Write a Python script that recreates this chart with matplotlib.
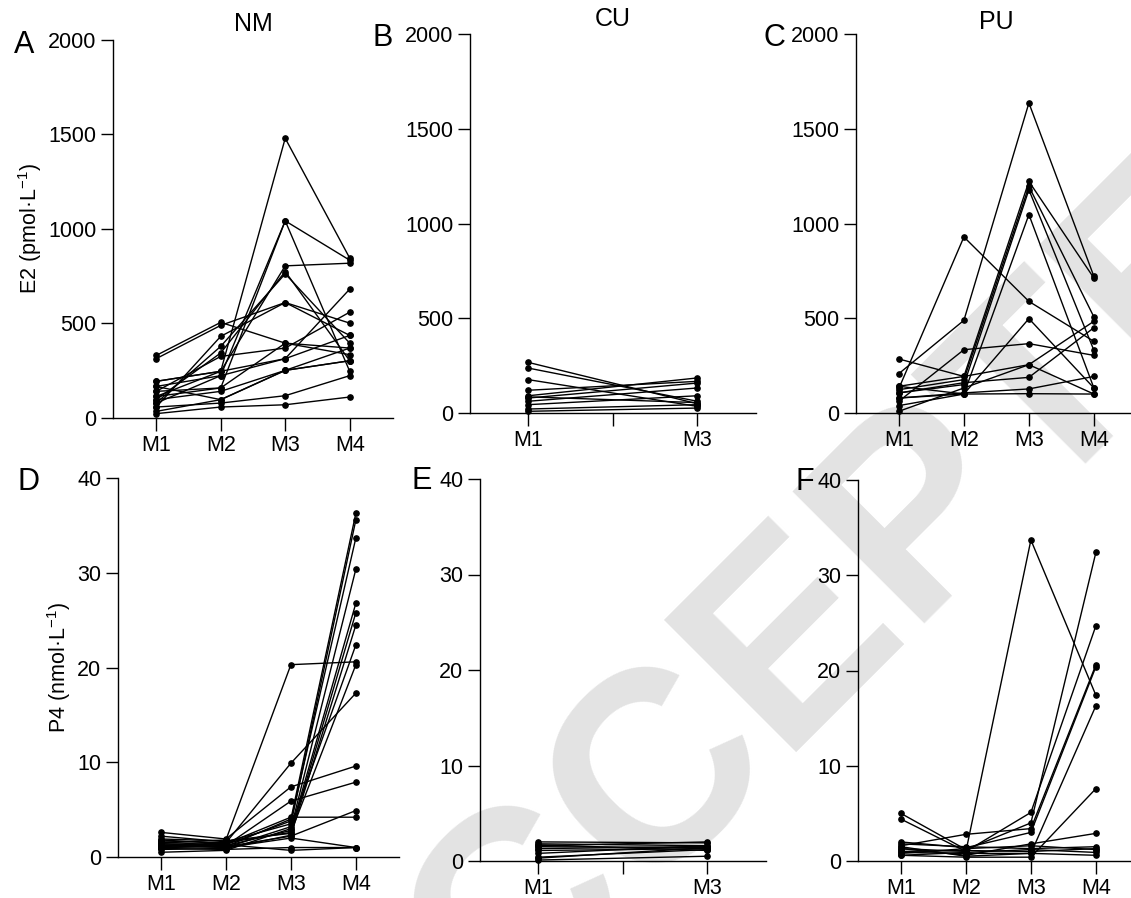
import matplotlib
matplotlib.use('Agg')
import matplotlib.pyplot as plt

plt.rcParams['font.family'] = ['Liberation Sans', 'DejaVu Sans']
plt.rcParams['mathtext.fontset'] = 'custom'
plt.rcParams['mathtext.rm'] = 'Liberation Sans'
plt.rcParams['mathtext.default'] = 'regular'

# time points
months4 = ['M1', 'M2', 'M3', 'M4']
months2 = ['M1', '', 'M3']

# E2 (pmol/L), one row per subject
e2_nm = [
    [331, 506, 396, 370],
    [314, 490, 611, 437],
    [194, 247, 1480, 846],
    [167, 224, 1043, 835],
    [141, 159, 1043, 247],
    [114, 247, 805, 819],
    [97, 344, 775, 303],
    [79, 379, 763, 396],
    [58, 432, 611, 502],
    [141, 326, 370, 560],
    [194, 247, 314, 682],
    [114, 159, 396, 335],
    [97, 141, 252, 303],
    [35, 97, 252, 303],
    [58, 79, 118, 224],
    [23, 58, 70, 111],
    [79, 224, 314, 437],
    [167, 97, 252, 370],
]
e2_cu = [
    [267, 49], [237, 62], [176, 35], [120, 167], [91, 185], [79, 158],
    [62, 132], [44, 91], [21, 44], [9, 26], [85, 55],
]
e2_pu = [
    [130, 929, 589, 378],
    [208, 489, 1636, 721],
    [141, 193, 1222, 712],
    [123, 176, 1196, 507],
    [106, 150, 1178, 331],
    [79, 100, 1047, 132],
    [62, 334, 366, 304],
    [39, 100, 498, 132],
    [285, 193, 255, 100],
    [9, 132, 255, 484],
    [106, 160, 188, 450],
    [79, 106, 127, 193],
    [141, 100, 102, 100],
]

# P4 (nmol/L)
p4_nm = [
    [1.5, 1.8, 20.3, 20.6],
    [1.2, 1.5, 9.9, 17.3],
    [2.6, 1.9, 7.4, 9.6],
    [1.0, 1.2, 5.9, 7.9],
    [1.8, 1.4, 4.2, 4.2],
    [1.3, 1.0, 2.0, 1.0],
    [0.9, 0.8, 1.0, 1.0],
    [1.4, 1.1, 4.0, 36.3],
    [2.2, 1.6, 3.5, 35.6],
    [1.1, 1.3, 3.8, 33.7],
    [0.5, 0.7, 3.0, 30.4],
    [1.6, 1.2, 2.8, 26.8],
    [1.9, 1.7, 2.5, 25.8],
    [0.8, 0.9, 2.3, 24.5],
    [1.2, 1.0, 3.2, 22.4],
    [1.7, 1.5, 2.6, 20.3],
    [1.0, 1.1, 2.2, 4.9],
    [1.4, 1.3, 0.7, 1.0],
]
p4_cu = [
    [2.0, 1.9], [1.8, 1.6], [1.6, 2.0], [1.5, 1.4], [1.3, 1.5], [1.1, 1.3],
    [0.8, 1.6], [0.4, 1.2], [0.1, 0.5], [1.7, 1.1], [0.3, 1.4],
]
p4_pu = [
    [1.3, 1.0, 33.7, 17.4],
    [5.0, 1.2, 4.0, 32.4],
    [4.4, 1.0, 5.1, 24.7],
    [1.6, 2.8, 3.4, 20.6],
    [2.0, 1.4, 3.0, 20.4],
    [0.9, 0.8, 0.8, 16.3],
    [1.3, 0.6, 1.8, 2.9],
    [0.6, 0.4, 0.4, 7.6],
    [1.8, 1.5, 1.3, 1.5],
    [1.0, 1.1, 1.0, 1.3],
    [0.6, 0.9, 1.2, 0.9],
    [1.5, 0.5, 0.8, 0.6],
    [0.8, 1.3, 1.6, 1.2],
]

W, H = 1131, 898
fig = plt.figure(figsize=(W / 100, H / 100), dpi=100)

# watermark behind everything
fig.text(895 / W, 1 - 647 / H, 'ACCEPTED', rotation=45, fontsize=196, color='#e3e3e3',
         fontweight='bold', ha='center', va='baseline', rotation_mode='anchor', zorder=-1)


def make_panel(box, subjects, labels, xs, ymax, ystep, letter, title=None, ylabel=None):
    left, top, bottom, unit, pad = box
    xlo, xhi = -pad, len(labels) - 1 + pad
    width = (xhi - xlo) * unit
    ax = fig.add_axes([left / W, 1 - bottom / H, width / W, (bottom - top) / H])
    ax.patch.set_alpha(0)
    for s in subjects:
        ax.plot(xs, s, color='black', lw=1.0, marker='o', ms=3.8, clip_on=False)
    ax.set_xlim(xlo, xhi)
    ax.set_ylim(0, ymax)
    ax.set_xticks(range(len(labels)))
    ax.set_xticklabels(labels)
    ax.set_yticks(range(0, ymax + 1, ystep))
    ax.spines['top'].set_visible(False)
    ax.spines['right'].set_visible(False)
    for sp in ['left', 'bottom']:
        ax.spines[sp].set_linewidth(1.0)
    ax.tick_params(length=9, width=1.0, labelsize=15.5, pad=3)
    if ylabel:
        ax.set_ylabel(ylabel, fontsize=15.5, labelpad=3)
    if title:
        fig.text((left + (0 - xlo) * unit + (len(labels) - 1) * unit / 2) / W, 1 - title[1] / H,
                 title[0], fontsize=18, ha='center', va='center')
    fig.text(letter[1] / W, 1 - letter[2] / H, letter[0], fontsize=22,
             ha='center', va='center')
    return ax


# box = (left px, top px, bottom px, px per x unit, x padding)
make_panel((113, 40, 418, 64.5, 0.67), e2_nm, months4, [0, 1, 2, 3], 2000, 500,
           ('A', 24, 45), ('NM', 24), 'E2 (pmol·L$^{-1}$)')
make_panel((470, 34, 413, 84.5, 0.69), e2_cu, months2, [0, 2], 2000, 500,
           ('B', 383, 38), ('CU', 19))
make_panel((856, 34, 413, 65, 0.66), e2_pu, months4, [0, 1, 2, 3], 2000, 500,
           ('C', 774, 38), ('PU', 22))
make_panel((118, 478, 857, 65, 0.66), p4_nm, months4, [0, 1, 2, 3], 40, 10,
           ('D', 29, 482), None, 'P4 (nmol·L$^{-1}$)')
make_panel((480, 479, 861, 84.5, 0.69), p4_cu, months2, [0, 2], 40, 10,
           ('E', 422, 481))
make_panel((858, 480, 861, 65, 0.66), p4_pu, months4, [0, 1, 2, 3], 40, 10,
           ('F', 805, 482))

fig.savefig('out.png', dpi=100)
